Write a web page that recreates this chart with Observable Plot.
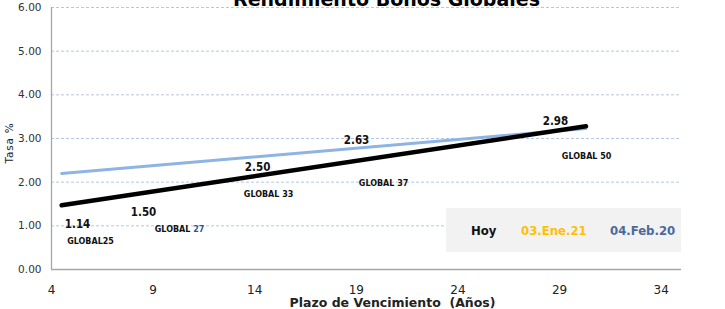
<!DOCTYPE html>
<html>
<head>
<meta charset="utf-8">
<script src="https://cdn.jsdelivr.net/npm/d3@7"></script>
<script src="https://cdn.jsdelivr.net/npm/@observablehq/plot@0.6"></script>
<style>
  html, body { margin: 0; padding: 0; background: #fff; }
  #wrap { position: relative; width: 725px; height: 309px; overflow: hidden; }
  #legend { position: absolute; left: 446px; top: 208px; width: 235px; height: 44px; background: #f2f2f2;
    font-family: "DejaVu Sans Condensed", "DejaVu Sans", sans-serif; font-stretch: condensed; font-weight: bold; font-size: 13px; }
  #legend span { position: absolute; top: 50%; transform: translateY(-50%); white-space: nowrap; }
  #ytitle { position: absolute; left: 8.5px; top: 143px; transform: translate(-50%, -50%) rotate(-90deg);
    font-family: "DejaVu Sans", sans-serif; font-size: 10.5px; letter-spacing: 0.8px; color: #222; white-space: nowrap; line-height: 1; }
</style>
</head>
<body>
<div id="wrap"></div>
<script>
// ---- data ----
const titleText = "Rendimiento Bonos Globales";
const xTitle = "Plazo de Vencimiento  (Años)";
const yTitle = "Tasa %";
const xTicks = [4, 9, 14, 19, 24, 29, 34];
const yTicks = [0, 1, 2, 3, 4, 5, 6];

// trend lines (plazo in years, yield %)
const trendPlazo = [4.5, 30.3];
const hoyTrend = [1.47, 3.28];     // black line
const prevTrend = [2.20, 3.23];    // light blue line

// bonds
const bondNames = ["GLOBAL25", "GLOBAL 27", "GLOBAL 33", "GLOBAL 37", "GLOBAL 50"];
const bondRates = [1.14, 1.50, 2.50, 2.63, 2.98];
const rateLabelX = [5.28, 8.53, 14.14, 19.01, 28.80];
const rateLabelY = [1.03, 1.31, 2.34, 2.95, 3.39];
const nameLabelX = [5.92, 10.30, 14.68, 20.34, 30.33];
const nameLabelY = [0.64, 0.92, 1.72, 1.97, 2.59];

const legendItems = ["Hoy", "03.Ene.21", "04.Feb.20"];

// ---- build ----
const hoyData = trendPlazo.map((x, i) => ({x, y: hoyTrend[i]}));
const prevData = trendPlazo.map((x, i) => ({x, y: prevTrend[i]}));
const bonds = bondNames.map((name, i) => ({
  name, rate: bondRates[i], rx: rateLabelX[i], ry: rateLabelY[i], nx: nameLabelX[i], ny: nameLabelY[i]
}));

const font = "'DejaVu Sans', sans-serif";
const condensed = "'DejaVu Sans Condensed', 'DejaVu Sans', sans-serif";

const chart = Plot.plot({
  width: 725,
  height: 309,
  marginLeft: 51,
  marginRight: 44,
  marginTop: 7,
  marginBottom: 40,
  style: {fontFamily: font, overflow: "visible", background: "transparent"},
  x: {domain: [4, 35], ticks: xTicks, label: null},
  y: {domain: [0, 6], ticks: yTicks, tickFormat: d => d.toFixed(2), label: null},
  marks: [
    Plot.gridY(yTicks.filter(d => d > 0), {stroke: "#b4c7e7", strokeOpacity: 1, strokeDasharray: "3,2"}),
    Plot.ruleY([0], {stroke: "#a6a6a6", strokeWidth: 1.3}),
    Plot.ruleX([4], {stroke: "#a6a6a6", strokeWidth: 1.3}),
    Plot.axisY({ticks: yTicks, tickSize: 0, tickPadding: 10, fontSize: 10.5, color: "#333", label: null, tickFormat: d => d.toFixed(2)}),
    Plot.axisX({ticks: xTicks, tickSize: 0, tickPadding: 16, fontSize: 12, color: "#222", label: null}),
    Plot.line(prevData, {x: "x", y: "y", stroke: "#8db4e2", strokeWidth: 3}),
    Plot.line(hoyData, {x: "x", y: "y", stroke: "#000", strokeWidth: 4.5}),
    Plot.text(bonds, {x: "rx", y: "ry", text: d => d.rate.toFixed(2), fontWeight: "bold", fontSize: 11.5, fontFamily: condensed, fill: "#111"}),
    Plot.text(bonds, {x: "nx", y: "ny", text: "name", fontWeight: "bold", fontSize: 8, fill: "#111"}),
    Plot.text([titleText], {frameAnchor: "top", dx: 20, dy: -2, lineAnchor: "bottom", fontSize: 19, fontWeight: "bold", fill: "#000"}),
    Plot.text([xTitle], {frameAnchor: "bottom", dx: 26, dy: 37, lineAnchor: "bottom", fontSize: 12.5, fontWeight: "bold", fill: "#222"})
  ]
});

// colour the "27" in GLOBAL 27
chart.querySelectorAll("text").forEach(t => {
  if (t.textContent === "GLOBAL 27") {
    t.textContent = "";
    const a = document.createElementNS("http://www.w3.org/2000/svg", "tspan");
    a.textContent = "GLOBAL ";
    const b = document.createElementNS("http://www.w3.org/2000/svg", "tspan");
    b.textContent = "27";
    b.setAttribute("fill", "#2f5597");
    t.appendChild(a); t.appendChild(b);
  }
});

const wrap = document.getElementById("wrap");
wrap.appendChild(chart);

const yt = document.createElement("div");
yt.id = "ytitle";
yt.textContent = yTitle;
wrap.appendChild(yt);

const legend = document.createElement("div");
legend.id = "legend";
const legendColors = ["#111", "#ffc000", "#4a6a9c"];
const legendLeft = [25, 75, 164];
legendItems.forEach((s, i) => {
  const sp = document.createElement("span");
  sp.textContent = s;
  sp.style.color = legendColors[i];
  sp.style.left = legendLeft[i] + "px";
  legend.appendChild(sp);
});
wrap.appendChild(legend);
</script>
</body>
</html>
